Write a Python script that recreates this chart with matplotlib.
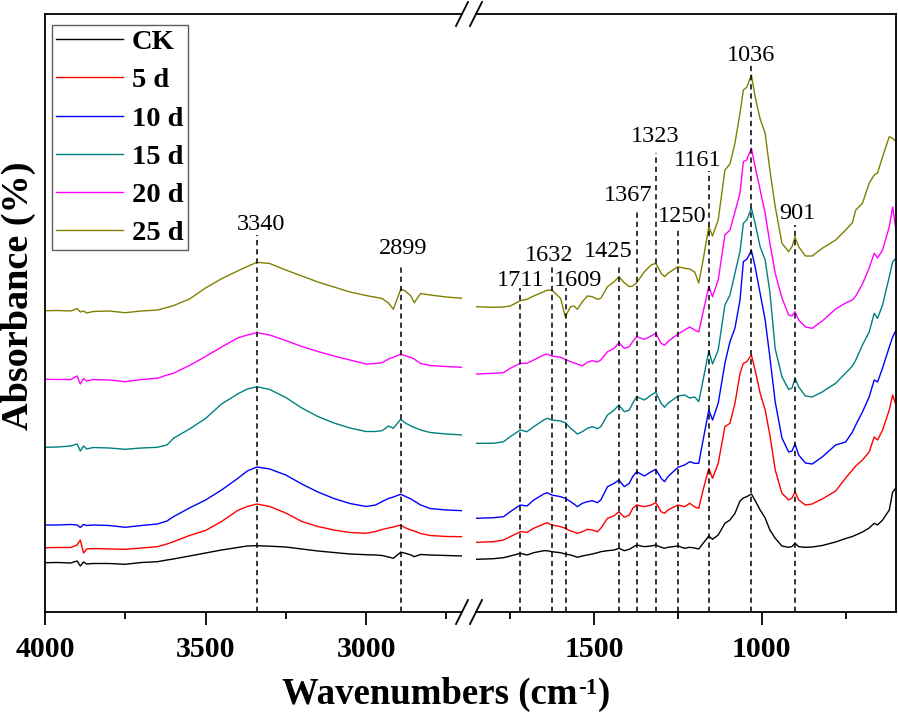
import numpy as np
import matplotlib
matplotlib.use('Agg')
import matplotlib.pyplot as plt

plt.rcParams['font.family'] = ['Liberation Serif', 'DejaVu Serif']

# wavenumber grids (cm-1) of the two axis segments
w_left = [4000, 3960, 3920, 3900, 3890, 3880, 3870, 3850, 3800, 3750, 3700, 3650, 3620,
          3600, 3550, 3500, 3450, 3400, 3370, 3340, 3300, 3250, 3200, 3150, 3100, 3050,
          3000, 2970, 2950, 2930, 2915, 2892, 2880, 2860, 2850, 2830, 2800, 2750, 2700]
w_right = [1850, 1800, 1770, 1750, 1720, 1700, 1680, 1650, 1640, 1626, 1600, 1586, 1570,
           1560, 1550, 1535, 1520, 1505, 1490, 1480, 1460, 1440, 1426, 1410, 1395, 1385,
           1373, 1350, 1330, 1316, 1300, 1290, 1280, 1250, 1230, 1215, 1200, 1188, 1175,
           1158, 1147, 1130, 1110, 1095, 1080, 1065, 1055, 1045, 1031, 1020, 1005, 990,
           976, 960, 940, 920, 910, 901, 890, 870, 850, 820, 780, 750, 730, 720, 700, 680,
           665, 655, 640, 620, 610, 600]

# stacked absorbance (arbitrary units, offset spectra)
ck_left = [49.3, 49.5, 49, 51, 46, 50, 48, 48.5, 48.5, 47.7, 49.5, 50.3, 52, 53, 56, 59, 62,
           64.5, 66, 66.3, 65.8, 65, 63, 61, 59.5, 58, 57.3, 57, 56.5, 55, 53.7, 59.7, 59,
           57, 55.3, 57.5, 57, 56.5, 56]
d5_left = [64.3, 64.5, 64.5, 67, 72, 59, 63, 63.5, 63, 62.7, 64, 65.3, 68, 70.3, 76.5, 81.5,
           90.5, 101.5, 105.5, 108, 105.5, 99, 90.5, 85.5, 82, 79.5, 78.7, 80.5, 82.5, 84,
           85, 87, 84.5, 82, 81, 78.5, 76.5, 75.5, 75.3]
d10_left = [87, 87, 87.5, 87, 84.5, 87.5, 86.5, 87, 86.5, 84.7, 86.5, 88, 91, 95.3, 104, 112,
            122, 133.5, 141, 145, 143, 137, 128, 120, 113.5, 108.5, 105.5, 107, 110.5,
            113.5, 115, 117.7, 116, 113, 111, 107, 103.5, 102, 101.3]
d15_left = [164.7, 165, 166, 168, 161, 166, 163, 164.5, 164, 162.7, 164, 164.7, 167, 173.7,
            183, 193.5, 208, 218, 223, 225.3, 222.5, 214.5, 204, 195.5, 189, 184, 180.5,
            180.5, 181.3, 186, 183.7, 192.7, 189.5, 186, 184.7, 182, 179.5, 178, 177]
d20_left = [232.7, 232.5, 232.5, 236, 228, 233.5, 231, 232.5, 232, 230.3, 232.5, 233.7, 237,
            238.7, 246.5, 255.5, 265, 274, 277, 279.3, 277, 271.5, 265.5, 260.5, 256, 252,
            248, 248.5, 249.3, 253, 254.7, 257.7, 256.5, 254.5, 253, 248.5, 246.5, 245.5,
            244.7]
d25_left = [301.3, 301.5, 301, 303.5, 300, 301, 299, 300.5, 301, 299.3, 301, 302, 304.5,
            306.3, 313, 324, 333.3, 341, 345.5, 349.7, 348.5, 342, 336, 330, 325, 320,
            316.5, 314.7, 313.5, 309, 302.7, 322.7, 321.5, 316, 309.3, 318.5, 317, 315,
            313.7]

ck_right = [52.7, 53.3, 54.3, 56, 58.7, 57, 59.3, 61.3, 61.3, 60.3, 59.3, 58, 57, 56, 54.7,
            56, 57, 58, 59.3, 60.3, 61.3, 62, 63.7, 61.3, 62.7, 64.7, 67, 65.3, 66, 67,
            64.7, 63.7, 64.7, 66, 63.7, 64.7, 64, 63, 68.7, 76, 72.7, 77, 88.7, 92, 98.7,
            111, 114, 115.3, 118, 111.5, 102, 94, 82, 73.7, 66, 64.7, 65.5, 68.7, 65.3,
            64.7, 65, 66.5, 70, 73.5, 75.5, 77, 80, 84, 88.7, 87, 92, 102, 120, 124]
d5_right = [69.7, 70.3, 72, 75.3, 80.3, 79.7, 83.7, 88, 89.3, 87, 85.3, 83.7, 81, 80, 78.7,
            80.3, 82.7, 82, 80.3, 83.7, 93.7, 96.3, 100.3, 94.7, 97, 103.7, 107, 105.3, 107,
            109.3, 100.3, 98.7, 102, 107, 105.3, 108.7, 105, 103.7, 122, 143.7, 133.7,
            148.7, 185.3, 188.7, 208.7, 238.7, 248.7, 250.3, 257, 242, 218.7, 202, 177, 142,
            118.7, 112, 114, 120.3, 112, 107, 108, 113, 121, 134, 142, 146, 152, 160, 175,
            172, 182, 202, 217, 207]
d10_right = [93.7, 94.3, 95.3, 100.3, 107, 106, 112, 118, 119.3, 117, 115.3, 113.7, 110.3,
             108, 105.3, 108.7, 110.3, 111.3, 109.3, 112, 125.3, 128.7, 132, 125.3, 128.7,
             135.3, 140.3, 136, 140.3, 142.7, 133.7, 130.3, 135.3, 144.7, 147, 150.3, 148.7,
             148.7, 172, 202, 192, 208.7, 248.7, 270.3, 284, 312, 350.3, 352.7, 361.3,
             345.3, 318.7, 292, 255, 210, 174, 160, 161, 168, 157, 149, 148, 155, 167, 170,
             180, 187, 200, 215, 232, 230, 244, 265, 275, 282]
d15_right = [168.7, 168.7, 170.3, 175.3, 182, 180.3, 185.3, 192, 193.7, 192, 191, 189.3,
             183.7, 181, 178, 180.3, 183.7, 185.3, 183.3, 185.3, 197, 202, 207, 200.3, 202,
             208.7, 215.3, 212, 217, 219.7, 208.7, 204.7, 208.7, 216, 217, 214, 215, 210.3,
             232, 261.3, 248, 262, 307, 317, 339, 360.3, 388.7, 392, 403.7, 388.7, 365.3,
             352, 320, 263, 235.3, 222.5, 224, 233.7, 225, 216, 215, 220, 228.7, 239, 246,
             252, 267, 280, 298.7, 293.7, 307, 335.3, 350, 354]
d20_right = [238, 238.7, 239.3, 243.7, 248.7, 248.7, 252, 257, 258, 256, 254.7, 252.7, 250.3,
             249, 248, 246, 249.7, 251.3, 250, 252, 260.3, 263.7, 269.3, 263.7, 265.3, 270.3,
             275.3, 272.7, 276, 278.7, 268.7, 266.7, 270.3, 278, 282, 285, 282, 280, 300,
             325.5, 315.3, 332, 377, 382, 400, 419, 450.3, 452, 463.7, 445.3, 422, 398.7,
             369, 338.7, 314, 297, 296, 300.3, 292, 285, 283.7, 291, 303, 309, 312, 316,
             328, 344, 358.7, 354, 362, 385.3, 405, 382]
d25_right = [305.3, 304.7, 305, 306, 311.3, 312.7, 316, 320.3, 321.7, 322, 313.7, 295.3,
             305.3, 306, 302.7, 310.3, 316, 315.3, 312.7, 313.7, 325.3, 330.3, 335.3, 329.3,
             325.3, 326, 329.3, 340.3, 347, 348.7, 338.7, 335.3, 338.7, 345.3, 343.7, 343,
             340, 329, 352, 385.3, 376, 392, 442, 448, 469, 499, 522, 524.7, 537, 515.3,
             493, 478.7, 442, 405.3, 368.7, 360.3, 365.3, 375, 365.3, 356, 356, 363.7, 372,
             382, 389.3, 402, 408.7, 428.7, 437, 439, 455.3, 475.3, 473.7, 470.3]

labels = ['CK', '5 d', '10 d', '15 d', '20 d', '25 d']
colors = ['black', 'red', 'blue', '#008080', 'magenta', '#808000']
left_sets = [ck_left, d5_left, d10_left, d15_left, d20_left, d25_left]
right_sets = [ck_right, d5_right, d10_right, d15_right, d20_right, d25_right]

# marked bands: label, line position, line top, label x, label baseline
peaks_left = [('3340', 3340, 377, 3327, 382), ('2899', 2892, 347, 2885, 358)]
peaks_right = [('1711', 1720, 324, 1718, 326), ('1632', 1626, 347, 1633, 351),
               ('1609', 1585, 324, 1547, 326), ('1425', 1426, 347, 1459, 355),
               ('1367', 1373, 403, 1398, 411), ('1323', 1316, 459, 1317, 470),
               ('1250', 1250, 384, 1237, 390), ('1161', 1158, 441, 1190, 446),
               ('1036', 1031, 547, 1033, 551), ('901', 901, 387, 893, 393)]

W, H = 898, 715
fig = plt.figure(figsize=(W / 100, H / 100), dpi=100)
bot = (H - 612) / H
top = (H - 14) / H
ax1 = fig.add_axes([45 / W, bot, (462 - 45) / W, top - bot])
ax2 = fig.add_axes([476 / W, bot, (896 - 476) / W, top - bot])

for ys, c, lab in zip(left_sets, colors, labels):
    ax1.plot(w_left, ys, color=c, lw=1.0, label=lab)
for ys, c in zip(right_sets, colors):
    ax2.plot(w_right, ys, color=c, lw=1.0)

for ax, peaks in ((ax1, peaks_left), (ax2, peaks_right)):
    for txt, pos, ytop, tx, ty in peaks:
        ax.plot([pos, pos], [0, ytop], color='black', lw=1.1, ls=(0, (3.5, 2.5)))
        ax.text(tx, ty, txt, ha='center', va='baseline', fontsize=17.5)

ax1.set_xlim(4000, 2701)
ax2.set_xlim(1852, 600)
for ax in (ax1, ax2):
    ax.set_ylim(0, 598)
    ax.set_yticks([])
    for s in ax.spines.values():
        s.set_linewidth(1.3)
    ax.tick_params(axis='x', which='major', direction='out', length=9, width=1.3,
                   labelsize=21.5, pad=8.5)
    ax.tick_params(axis='x', which='minor', direction='out', length=5, width=1.3)
ax1.spines['right'].set_visible(False)
ax2.spines['left'].set_visible(False)
ax1.set_xticks([4000, 3500, 3000])
ax1.set_xticks([3750, 3250, 2750], minor=True)
ax2.set_xticks([1500, 1000])
ax2.set_xticks([1750, 1250, 750], minor=True)
for ax in (ax1, ax2):
    for t in ax.get_xticklabels():
        t.set_fontweight('bold')

# break marks
dx1, dy1 = 6 / (462 - 45), 12 / 598
dx2 = 6 / (896 - 476)
for yy in (0, 1):
    ax1.plot([1 - dx1, 1 + dx1], [yy - dy1, yy + dy1], transform=ax1.transAxes,
             color='black', lw=1.3, clip_on=False)
    ax2.plot([-dx2, dx2], [yy - dy1, yy + dy1], transform=ax2.transAxes,
             color='black', lw=1.3, clip_on=False)

leg = ax1.legend(loc='upper left', bbox_to_anchor=(52 / W, 1 - 25 / H),
                 bbox_transform=fig.transFigure, borderaxespad=0, fancybox=False,
                 edgecolor='#333333', handlelength=2.35, handletextpad=0.3,
                 labelspacing=0.43, borderpad=0.15,
                 prop={'weight': 'bold', 'size': 20.5})
leg.get_frame().set_linewidth(1.0)

# x label built from pieces so the superscript uses a plain hyphen
renderer = fig.canvas.get_renderer()
yb = 1 - 704 / H
ys = 1 - 694 / H
p1 = fig.text(0, yb, 'Wavenumbers (cm', fontsize=26.5, fontweight='bold', va='baseline')
p2 = fig.text(0, ys, '-1', fontsize=16.5, fontweight='bold', va='baseline')
p3 = fig.text(0, yb, ')', fontsize=26.5, fontweight='bold', va='baseline')
w1 = p1.get_window_extent(renderer).width
w2 = p2.get_window_extent(renderer).width
w3 = p3.get_window_extent(renderer).width
x0 = 446 - (w1 + w2 + w3 + 1) / 2
p1.set_x(x0 / W)
p2.set_x((x0 + w1 + 1) / W)
p3.set_x((x0 + w1 + w2 + 1) / W)

fig.text(18 / W, 1 - 296 / H, 'Absorbance (%)', ha='center', va='center', rotation=90,
         fontsize=27.5, fontweight='bold')

plt.savefig('out.png', dpi=100)
